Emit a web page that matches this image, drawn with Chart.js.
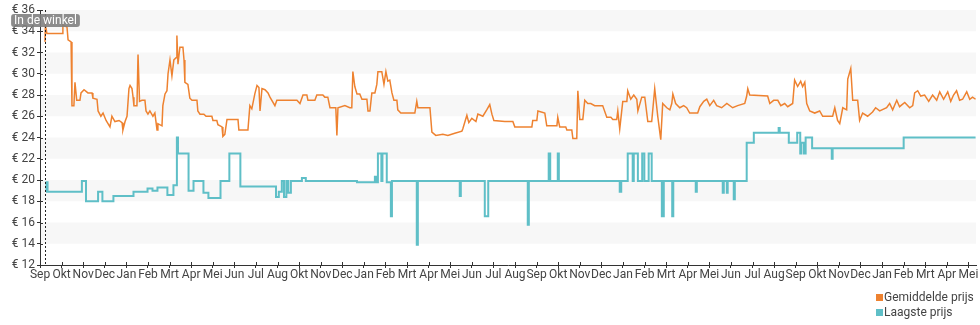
<!DOCTYPE html>
<html>
<head>
<meta charset="utf-8">
<script src="https://cdn.jsdelivr.net/npm/chart.js@4/dist/chart.umd.min.js"></script>
<style>
  html, body { margin: 0; padding: 0; background: #fff; }
  #wrap { width: 980px; height: 325px; }
</style>
</head>
<body>
<div id="wrap"><canvas id="priceChart"></canvas></div>
<script>
// month labels under the x axis (one per tick, value = index)
const monthLabels = [
  'Sep', 'Okt', 'Nov', 'Dec', 'Jan', 'Feb', 'Mrt', 'Apr', 'Mei', 'Jun', 'Jul', 'Aug',
  'Okt', 'Nov', 'Dec', 'Jan', 'Feb', 'Mrt', 'Apr', 'Mei', 'Jun', 'Jul', 'Aug', 'Sep',
  'Okt', 'Nov', 'Dec', 'Jan', 'Feb', 'Mrt', 'Apr', 'Mei', 'Jun', 'Jul', 'Aug', 'Sep',
  'Okt', 'Nov', 'Dec', 'Jan', 'Feb', 'Mrt', 'Apr', 'Mei',
];

// gemiddelde prijs: position in months since first Sep, price in euro
const avgMonths = [
  0.23, 0.25, 0.32, 1.02, 1.06, 1.25, 1.30, 1.44, 1.48, 1.57, 1.62, 1.70, 1.85, 1.90, 2.04, 2.22,
  2.41, 2.45, 2.64, 2.69, 2.82, 2.92, 3.06, 3.15, 3.24, 3.33, 3.47, 3.66, 3.80, 3.84, 3.94, 4.03,
  4.12, 4.17, 4.26, 4.31, 4.35, 4.49, 4.54, 4.61, 4.72, 4.86, 4.91, 5.00, 5.09, 5.23, 5.32, 5.42,
  5.46, 5.65, 5.69, 5.79, 5.88, 5.93, 6.02, 6.11, 6.20, 6.30, 6.34, 6.39, 6.48, 6.62, 6.67, 6.71,
  6.85, 6.94, 7.04, 7.27, 7.31, 7.41, 7.59, 7.69, 7.96, 8.01, 8.19, 8.24, 8.43, 8.47, 8.56, 8.66,
  9.17, 9.21, 9.63, 9.72, 9.81, 9.95, 10.05, 10.14, 10.19, 10.28, 10.42, 10.56, 10.65, 10.88, 10.97, 11.90,
  12.04, 12.18, 12.36, 12.41, 12.73, 12.82, 13.10, 13.19, 13.33, 13.43, 13.70, 13.75, 13.80, 14.12, 14.35, 14.44,
  14.49, 14.58, 14.68, 14.81, 14.91, 15.14, 15.19, 15.28, 15.37, 15.51, 15.60, 15.65, 15.83, 15.93, 16.02, 16.11,
  16.20, 16.30, 16.39, 16.53, 16.57, 16.71, 17.36, 17.45, 17.50, 18.06, 18.15, 18.33, 18.66, 18.89, 19.21, 19.54,
  19.58, 19.77, 19.86, 20.00, 20.19, 20.28, 20.51, 20.69, 20.83, 20.93, 21.02, 21.53, 21.90, 21.99, 22.36, 22.78,
  22.82, 23.01, 23.06, 23.38, 23.47, 23.94, 23.98, 24.07, 24.35, 24.40, 24.63, 24.68, 24.86, 24.91, 25.00, 25.14,
  25.23, 25.37, 25.51, 25.69, 26.06, 26.25, 26.44, 26.53, 26.71, 26.76, 26.85, 26.99, 27.18, 27.22, 27.36, 27.50,
  27.64, 27.69, 27.87, 28.01, 28.15, 28.33, 28.47, 28.61, 28.75, 28.84, 29.03, 29.17, 29.26, 29.31, 29.44, 29.63,
  29.81, 29.95, 30.09, 30.46, 30.56, 30.74, 30.88, 31.02, 31.20, 31.34, 31.57, 31.81, 32.08, 32.31, 32.64, 32.73,
  32.78, 32.87, 33.70, 33.80, 33.98, 34.17, 34.31, 34.49, 34.63, 34.86, 34.95, 35.09, 35.23, 35.32, 35.42, 35.51,
  35.65, 35.88, 36.11, 36.25, 36.71, 36.81, 36.94, 37.04, 37.18, 37.36, 37.41, 37.55, 37.64, 37.87, 37.96, 38.10,
  38.33, 38.56, 38.70, 38.89, 39.21, 39.35, 39.49, 39.68, 39.81, 40.05, 40.28, 40.42, 40.51, 40.65, 40.79, 40.97,
  41.16, 41.34, 41.53, 41.67, 41.85, 42.04, 42.18, 42.31, 42.45, 42.59, 42.73, 42.92, 43.06, 43.19, 43.33,
];
const avgPrices = [
  33.0, 34.6, 33.8, 33.8, 34.6, 34.4, 33.2, 33.0, 27.0, 27.0, 29.2, 27.5, 27.5, 28.2, 28.5, 28.2,
  28.2, 27.7, 27.6, 26.5, 26.0, 26.3, 25.6, 25.3, 25.0, 26.0, 25.5, 25.6, 25.4, 24.7, 25.5, 26.0,
  28.6, 28.9, 28.6, 27.8, 27.0, 27.0, 31.8, 27.4, 27.5, 27.5, 26.5, 26.2, 26.5, 26.0, 26.3, 24.7,
  25.3, 25.1, 27.0, 28.1, 28.4, 30.0, 31.3, 29.8, 31.3, 31.5, 33.6, 30.9, 32.5, 32.5, 31.3, 29.2,
  29.0, 27.7, 27.5, 27.5, 26.5, 26.2, 26.2, 26.0, 26.0, 25.6, 25.6, 25.2, 25.0, 24.1, 24.3, 25.7,
  25.7, 24.7, 24.7, 27.0, 26.7, 28.1, 28.9, 28.7, 26.5, 28.6, 28.5, 28.2, 27.8, 27.0, 27.5, 27.5,
  27.2, 28.0, 28.0, 27.5, 27.5, 28.0, 28.0, 27.8, 27.8, 26.8, 26.8, 24.2, 26.8, 27.0, 26.8, 26.8,
  30.2, 28.8, 28.1, 28.1, 27.6, 27.6, 26.5, 26.5, 28.2, 28.2, 29.0, 30.2, 30.2, 29.0, 30.2, 29.3,
  29.4, 28.2, 27.5, 27.5, 26.6, 26.3, 26.3, 27.4, 26.8, 26.8, 24.5, 24.2, 24.3, 24.2, 24.4, 24.6,
  24.8, 26.1, 25.4, 25.8, 25.5, 26.2, 26.0, 26.6, 27.1, 26.2, 25.6, 25.5, 25.5, 25.0, 25.0, 25.0,
  25.6, 25.6, 26.5, 26.3, 25.1, 25.1, 25.9, 25.0, 25.0, 24.7, 24.7, 23.9, 23.9, 28.4, 25.7, 25.7,
  27.5, 27.2, 27.2, 27.0, 27.0, 25.9, 25.9, 25.7, 25.7, 26.5, 24.8, 27.4, 27.4, 28.4, 27.6, 28.0,
  27.6, 26.5, 27.8, 27.8, 25.5, 25.5, 28.6, 26.0, 23.8, 27.2, 26.8, 26.6, 27.2, 28.1, 27.2, 26.8,
  27.0, 26.8, 26.3, 26.3, 26.9, 27.4, 27.6, 27.0, 27.5, 27.0, 26.8, 27.2, 26.8, 27.0, 27.2, 27.9,
  28.6, 28.0, 27.9, 27.2, 27.5, 27.5, 27.0, 27.2, 26.9, 27.2, 29.4, 28.8, 29.3, 28.8, 29.2, 27.2,
  26.5, 26.3, 26.5, 26.0, 26.0, 26.8, 25.6, 25.3, 26.8, 26.6, 29.5, 30.5, 27.5, 27.5, 25.6, 26.3,
  26.0, 26.4, 26.8, 26.5, 26.8, 27.2, 26.6, 27.5, 26.9, 27.3, 26.8, 27.0, 28.2, 28.4, 27.9, 28.0,
  27.4, 28.0, 27.5, 28.3, 27.6, 28.3, 27.4, 28.0, 28.4, 27.5, 27.6, 28.3, 27.6, 27.8, 27.6,
];

// laagste prijs: price changes (value holds until the next change)
const lowMonths = [
  0.28, 0.30, 0.35, 1.94, 2.13, 2.69, 2.89, 3.40, 4.33, 4.98, 5.21, 5.44, 5.90, 6.18, 6.34, 6.39,
  6.88, 7.11, 7.57, 7.80, 8.36, 8.77, 9.28, 10.93, 11.06, 11.20, 11.30, 11.41, 11.50, 11.62, 12.13, 12.31,
  14.68, 15.51, 15.58, 15.65, 15.81, 15.86, 16.06, 16.25, 16.30, 17.45, 17.50, 19.44, 19.49, 20.60, 20.76, 22.59,
  22.64, 23.56, 23.63, 23.98, 24.03, 26.85, 26.92, 27.22, 27.45, 27.50, 27.69, 27.89, 27.99, 28.19, 28.33, 28.80,
  28.89, 29.28, 29.33, 30.37, 30.42, 31.62, 31.67, 31.81, 31.85, 32.13, 32.18, 32.73, 33.06, 34.21, 34.26, 34.68,
  35.07, 35.21, 35.25, 35.37, 35.46, 35.76, 36.67, 36.71, 40.00, 43.33,
];
const lowPrices = [
  18.9, 19.8, 18.9, 19.9, 18.0, 18.9, 18.0, 18.5, 18.9, 19.2, 19.0, 19.3, 18.6, 19.5, 24.0, 22.5,
  19.0, 19.9, 18.8, 18.3, 19.9, 22.5, 19.4, 18.4, 18.9, 19.9, 18.4, 19.9, 18.8, 19.9, 20.2, 19.9,
  19.8, 20.3, 19.8, 22.5, 19.9, 22.5, 19.8, 16.6, 19.9, 13.9, 19.9, 18.5, 19.9, 16.6, 19.9, 15.8,
  19.9, 22.5, 19.9, 22.5, 19.9, 18.9, 19.9, 22.5, 19.9, 22.5, 19.9, 22.5, 19.9, 22.5, 19.9, 16.6,
  19.9, 16.6, 19.9, 18.9, 19.9, 18.8, 19.9, 18.8, 19.9, 18.2, 19.9, 23.5, 24.45, 24.9, 24.45, 23.5,
  24.45, 22.5, 23.5, 22.5, 24.0, 23.0, 22.0, 23.0, 24.0, 24.0,
];

const storeMonth = 0.23;
const storeLabel = 'In de winkel';

const avgColor = '#ee8230';
const lowColor = '#5fbfc7';

Chart.defaults.font.family = 'Roboto';
Chart.defaults.font.size = 12;
Chart.defaults.color = '#444';

const decorations = {
  id: 'decorations',
  beforeDatasetsDraw(chart) {
    const { ctx, chartArea: area, scales: { y } } = chart;
    ctx.save();
    ctx.fillStyle = '#f7f7f7';
    for (let v = 36; v > 12; v -= 4) {
      const top = y.getPixelForValue(v);
      const bottom = y.getPixelForValue(v - 2);
      ctx.fillRect(area.left + 1, top, area.right - area.left - 1, bottom - top);
    }
    ctx.restore();
  },
  afterDraw(chart) {
    const { ctx, chartArea: area, scales: { x, y } } = chart;
    ctx.save();
    // inner half of the tick marks
    ctx.strokeStyle = '#333';
    ctx.lineWidth = 1;
    ctx.beginPath();
    x.ticks.forEach((t) => {
      const px = Math.round(x.getPixelForValue(t.value)) + 0.5;
      ctx.moveTo(px, area.bottom);
      ctx.lineTo(px, area.bottom - 3);
    });
    y.ticks.forEach((t) => {
      const py = Math.round(y.getPixelForValue(t.value)) + 0.5;
      ctx.moveTo(area.left, py);
      ctx.lineTo(area.left + 3, py);
    });
    ctx.stroke();

    // "in de winkel" marker
    const sx = Math.round(x.getPixelForValue(storeMonth)) + 0.5;
    ctx.setLineDash([2, 2]);
    ctx.strokeStyle = '#222';
    ctx.beginPath();
    ctx.moveTo(sx, area.top);
    ctx.lineTo(sx, area.bottom);
    ctx.stroke();
    ctx.setLineDash([]);

    ctx.font = '12px Roboto';
    const w = ctx.measureText(storeLabel).width + 6;
    const h = 13;
    const bx = sx - w / 2;
    const by = area.top + 4;
    ctx.fillStyle = 'rgba(128,128,128,0.9)';
    ctx.beginPath();
    ctx.roundRect(bx, by, w, h, 3);
    ctx.fill();
    ctx.fillStyle = '#fff';
    ctx.textAlign = 'center';
    ctx.textBaseline = 'middle';
    ctx.fillText(storeLabel, sx, by + h / 2 + 0.5);

    // legend, stacked at the bottom right
    ctx.textAlign = 'left';
    chart.data.datasets.forEach((ds, i) => {
      const ly = 297 + i * 15;
      ctx.fillStyle = ds.borderColor;
      ctx.fillRect(876, ly - 3, 7, 7);
      ctx.fillStyle = '#444';
      ctx.fillText(ds.label, 884, ly + 0.5);
    });
    ctx.restore();
  },
};

const ctx = document.getElementById('priceChart').getContext('2d');

const priceChart = new Chart(ctx, {
  type: 'line',
  data: {
    datasets: [
      {
        label: 'Gemiddelde prijs',
        data: avgMonths.map((m, i) => ({ x: m, y: avgPrices[i] })),
        borderColor: avgColor,
        backgroundColor: avgColor,
        borderWidth: 1.5,
        pointRadius: 0,
        tension: 0,
      },
      {
        label: 'Laagste prijs',
        data: lowMonths.map((m, i) => ({ x: m, y: lowPrices[i] })),
        borderColor: lowColor,
        backgroundColor: lowColor,
        borderWidth: 2,
        pointRadius: 0,
        stepped: true,
      },
    ],
  },
  options: {
    responsive: true,
    maintainAspectRatio: false,
    animation: false,
    layout: {
      padding: { top: 10, right: 4, left: 0, bottom: 0 },
    },
    plugins: {
      legend: { display: false },
      tooltip: { enabled: false },
    },
    scales: {
      x: {
        type: 'linear',
        min: 0,
        max: 43.35,
        afterFit: (scale) => { scale.height = 60; },
        grid: {
          drawOnChartArea: false,
          tickLength: 3,
          color: '#333',
        },
        border: { color: '#333' },
        ticks: {
          stepSize: 1,
          includeBounds: false,
          autoSkip: false,
          maxRotation: 0,
          padding: 0,
          callback: (v) => monthLabels[v] ?? '',
        },
      },
      y: {
        min: 12,
        max: 36,
        afterFit: (scale) => { scale.width = 40; },
        grid: {
          drawOnChartArea: false,
          tickLength: 3,
          color: '#333',
        },
        border: { color: '#333' },
        ticks: {
          stepSize: 2,
          padding: 2,
          callback: (v) => '€ ' + v,
        },
      },
    },
  },
  plugins: [decorations],
});
</script>
</body>
</html>
